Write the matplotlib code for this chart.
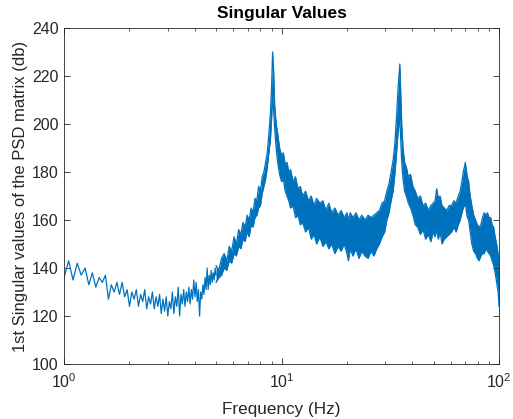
import numpy as np
import matplotlib
matplotlib.use('Agg')
import matplotlib.pyplot as plt

# low frequency part: 1.00 .. 5.00 Hz, 0.05 Hz step (noisy single line)
freq_low = np.arange(1.0, 5.0001, 0.05)
sv_low = [136, 143, 135, 142, 137, 140, 133, 138, 132, 136,
          134, 137, 127, 133, 130, 134, 129, 134, 128, 131,
          124, 130, 127, 131, 124, 129, 126, 131, 123, 128,
          125, 130, 123, 128, 124, 129, 121, 127, 122, 128,
          120, 126, 123, 130, 121, 128, 124, 132, 120, 129,
          125, 131, 124, 130, 126, 132, 125, 131, 127, 135,
          128, 134, 126, 131, 120, 130, 127, 133, 129, 136,
          131, 140, 131, 137, 133, 139, 134, 138, 135, 140,
          137]

# dense part (5 - 100 Hz): upper / lower edge of the band
freq_band = [5.0, 5.15, 5.3, 5.45, 5.6, 5.75, 5.9, 6.05, 6.2, 6.35,
             6.5, 6.65, 6.8, 6.95, 7.1, 7.25, 7.4, 7.55, 7.7, 7.85,
             8.0, 8.15, 8.3, 8.45, 8.6, 8.75,
             8.9, 9.0, 9.1, 9.2, 9.3, 9.45, 9.6,
             9.8, 10.0, 10.2, 10.4, 10.6, 10.8, 11.0,
             11.3, 11.6, 11.9, 12.2, 12.5, 12.9, 13.3, 13.7, 14.1, 14.5,
             15.0, 15.5, 16.0, 16.5, 17.0, 17.6, 18.2, 18.8, 19.4, 20.0,
             20.3, 20.7, 21.3, 22.0, 22.7, 23.4, 24.2, 25.0, 25.8, 26.6,
             27.4, 28.2, 29.0,
             29.8, 30.5, 31.2, 31.9, 32.6, 33.2, 33.8, 34.3, 34.7, 35.0,
             35.3, 35.7, 36.2, 36.8,
             37.5, 38.3, 39.2, 40.2, 41.2, 42.3, 43.5, 44.7, 46.0, 47.3,
             48.6, 49.8, 50.8, 51.7, 52.6, 53.6, 54.7, 56.0, 57.5, 59.0,
             60.5, 62.0, 63.5, 65.0, 66.3, 67.5, 68.5, 69.3, 70.0, 70.7,
             71.5, 72.5, 73.7, 75.0, 76.5, 78.0, 79.5, 81.0, 82.5, 84.0,
             85.5, 87.0, 88.5, 90.0, 91.5, 93.0, 94.5, 96.0, 97.5, 98.7,
             99.5, 100.0]
sv_upper = [141, 139, 144, 146, 143, 149, 147, 153, 150, 156,
            154, 159, 157, 162, 160, 165, 163, 169, 168, 174,
            172, 178, 180, 184, 188, 196,
            205, 215, 230, 222, 208, 200, 196,
            190, 187, 188, 183, 184, 180, 181,
            176, 178, 173, 174, 170, 172, 168, 170, 166, 169,
            167, 168, 164, 167, 163, 165, 162, 164, 161, 163,
            160, 163, 161, 163, 160, 162, 160, 162, 161, 162,
            163, 164, 167,
            168, 172, 175, 180, 185, 192, 203, 214, 220, 225,
            214, 200, 190, 184,
            182, 178, 179, 174, 172, 169, 170, 166, 167, 164,
            166, 167, 168, 173, 169, 170, 166, 165, 164, 166,
            166, 168, 167, 170, 172, 176, 180, 182, 184, 181,
            178, 176, 170, 166, 162, 160, 158, 157, 158, 161,
            163, 162, 163, 161, 161, 158, 157, 153, 150, 147,
            144, 140]
sv_lower = [134, 136, 137, 140, 139, 143, 142, 146, 145, 149,
            148, 152, 151, 155, 153, 158, 157, 161, 162, 165,
            166, 171, 174, 177, 182, 188,
            194, 202, 212, 206, 198, 190, 184,
            179, 176, 177, 172, 170, 168, 165,
            166, 161, 162, 158, 159, 155, 157, 152, 154, 150,
            153, 149, 151, 148, 150, 146, 149, 147, 150, 146,
            143, 148, 145, 148, 144, 147, 145, 144, 147, 145,
            148, 150, 153,
            155, 160, 163, 168, 172, 179, 188, 196, 200, 202,
            194, 184, 177, 172,
            170, 167, 165, 162, 158, 157, 154, 156, 152, 154,
            151, 155, 153, 156, 152, 155, 150, 152, 153, 154,
            155, 157, 155, 158, 160, 163, 165, 166, 167, 164,
            161, 160, 155, 150, 147, 146, 144, 143, 145, 146,
            146, 148, 147, 146, 145, 143, 141, 138, 134, 131,
            128, 124]

y_ticks = [100, 120, 140, 160, 180, 200, 220, 240]

plt.rcParams['font.family'] = ['Liberation Sans', 'DejaVu Sans']
blue = '#0072BD'
axc = '#262626'

fig = plt.figure(figsize=(5.13, 4.19), dpi=100)
ax = fig.add_axes([0.1248, 0.1313, 0.8479, 0.8019])

ax.plot(freq_low, sv_low, color=blue, linewidth=0.9)
ax.fill_between(freq_band, sv_lower, sv_upper, color=blue, linewidth=0)
ax.plot(freq_band, sv_upper, color=blue, linewidth=0.9)
ax.plot(freq_band, sv_lower, color=blue, linewidth=0.9)

ax.set_xscale('log')
ax.set_xlim(1, 100)
ax.set_ylim(100, 240)
ax.set_yticks(y_ticks)
ax.tick_params(which='both', direction='in', top=True, right=True,
               colors=axc, labelsize=11.5, labelcolor=axc)
ax.tick_params(which='major', length=4, width=0.6, pad=4)
ax.tick_params(axis='x', which='major', pad=6)
ax.tick_params(which='minor', length=2.5, width=0.5)
for s in ax.spines.values():
    s.set_color(axc)
    s.set_linewidth(0.6)

ax.set_title('Singular Values', fontsize=12.5, fontweight='bold', pad=7)
ax.set_xlabel('Frequency (Hz)', fontsize=12.3, color=axc, labelpad=8)
ax.set_ylabel('1st Singular values of the PSD matrix (db)', fontsize=12, color=axc, labelpad=3)

fig.savefig('out.png', dpi=100)
